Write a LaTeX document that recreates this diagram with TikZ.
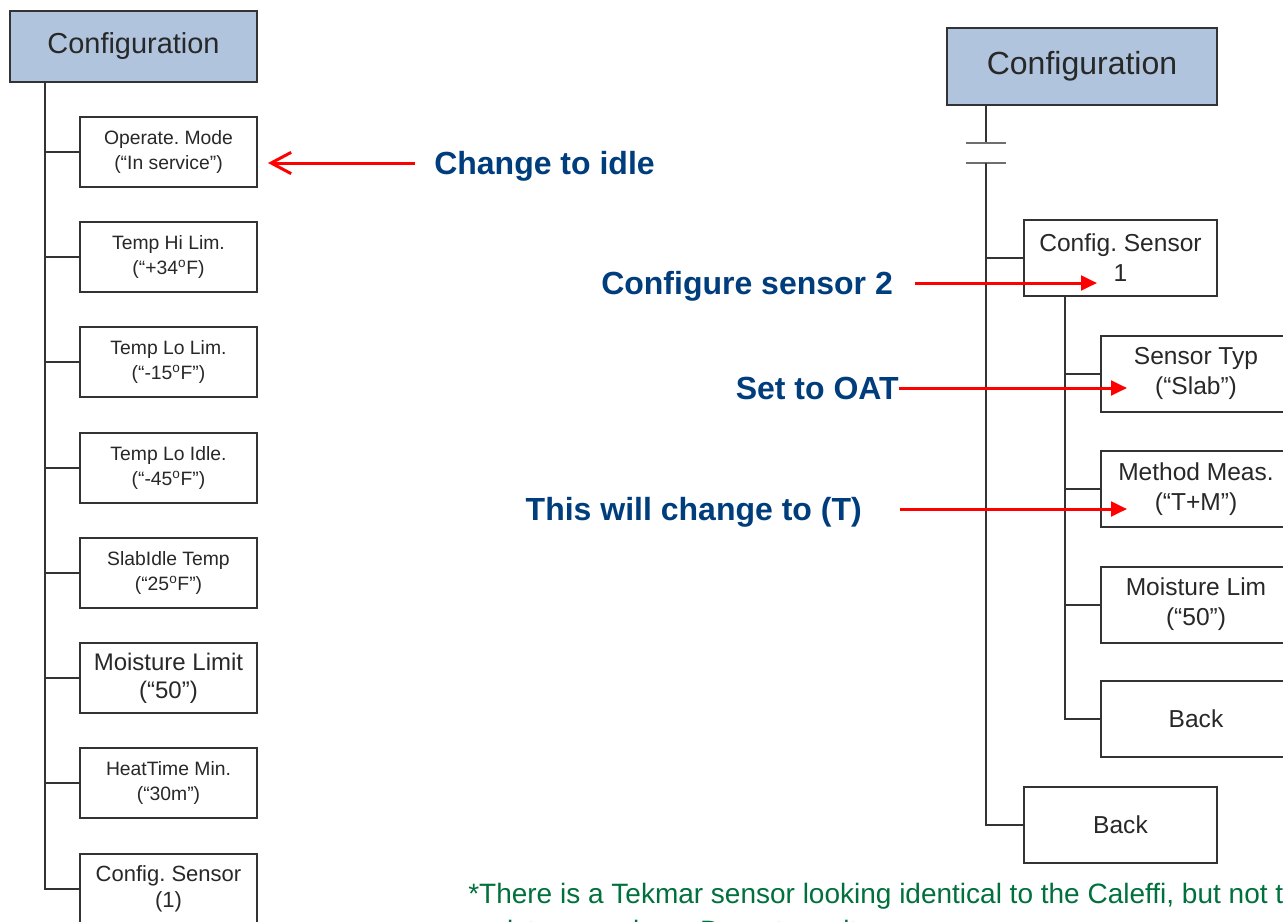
\documentclass[tikz,border=0pt]{standalone}
\usepackage{fontspec}
\setmainfont{Liberation Sans}
\usetikzlibrary{arrows.meta}
\definecolor{hdrfill}{RGB}{176,196,222}
\definecolor{boxline}{RGB}{51,51,51}
\definecolor{txtgray}{RGB}{40,40,40}
\definecolor{brkgray}{RGB}{110,110,110}
\definecolor{annblue}{RGB}{0,61,124}
\definecolor{notegreen}{RGB}{0,112,60}
\definecolor{arrred}{RGB}{255,0,0}
\frenchspacing
\begin{document}
\begin{tikzpicture}[x=0.75pt,y=-0.75pt,
  hdr/.style={draw=boxline,fill=hdrfill,line width=1.5pt,inner sep=0pt,text=txtgray},
  lbox/.style={draw=boxline,line width=1.5pt,fill=white,minimum width=132.75pt,minimum height=52.5pt,inner sep=0pt,align=center,text=txtgray,font=\fontsize{14.5}{18.75}\selectfont},
  rbox/.style={draw=boxline,line width=1.5pt,fill=white,minimum width=142.5pt,minimum height=57pt,inner sep=0pt,align=center,text=txtgray,font=\fontsize{18.4}{22.5}\selectfont},
  wire/.style={draw=boxline,line width=1.5pt},
  brkline/.style={draw=brkgray,line width=1.8pt},
  ann/.style={text=annblue,font=\bfseries\fontsize{24}{28}\selectfont,inner sep=0pt},
  redarr/.style={draw=arrred,line width=2.25pt},
  note/.style={text=notegreen,font=\fontsize{21}{24}\selectfont,inner sep=0pt}
]
\useasboundingbox (0,0) rectangle (1283,922);

% ---------------- left tree ----------------
\node[hdr,minimum width=185.25pt,minimum height=53.25pt,font=\fontsize{21.7}{26}\selectfont] (lcfg) at (133.5,46.5) {Configuration};
\node[lbox] (l1) at (168.5,152) {Operate. Mode\\(“In service”)};
\node[lbox] (l2) at (168.5,257) {Temp Hi Lim.\\(“+34\textsuperscript{o}F)};
\node[lbox] (l3) at (168.5,362) {Temp Lo Lim.\\(“-15\textsuperscript{o}F”)};
\node[lbox] (l4) at (168.5,468) {Temp Lo Idle.\\(“-45\textsuperscript{o}F”)};
\node[lbox] (l5) at (168.5,573) {SlabIdle Temp\\(“25\textsuperscript{o}F”)};
\node[lbox,font=\fontsize{18}{21}\selectfont] (l6) at (168.5,678) {Moisture Limit\\(“50”)};
\node[lbox] (l7) at (168.5,783) {HeatTime Min.\\(“30m”)};
\node[lbox,font=\fontsize{16.5}{19.5}\selectfont] (l8) at (168.5,889) {Config. Sensor\\(1)};

\coordinate (ltr) at (45,82);
\draw[wire] (ltr |- lcfg.south) |- (l8.west);
\foreach \n in {l1,l2,l3,l4,l5,l6,l7}{
  \draw[wire] (\n.west) -- (\n.west -| ltr);
}

% ---------------- right tree ----------------
\node[hdr,minimum width=202.5pt,minimum height=57.75pt,font=\fontsize{24}{28}\selectfont] (rcfg) at (1082,66.5) {Configuration};
\coordinate (brk1) at (986,143);
\coordinate (brk2) at (986,163);
\draw[wire] (brk1 |- rcfg.south) -- (brk1);
\draw[brkline] (966,143) -- (1006,143);
\draw[brkline] (966,163) -- (1006,163);

\node[rbox,minimum width=144.75pt] (rcs) at (1120.5,258) {Config. Sensor\\1};
\node[rbox] (r1) at (1196,373.5) {Sensor Typ\\(“Slab”)};
\node[rbox] (r2) at (1196,489) {Method Meas.\\(“T+M”)};
\node[rbox] (r3) at (1196,604.5) {Moisture Lim\\(“50”)};
\node[rbox] (rb2) at (1196,719) {Back};
\node[rbox,minimum width=144.75pt] (rback) at (1120.5,824.5) {Back};

\coordinate (rtr) at (1065,296);
\draw[wire] (brk2) |- (rback.west);
\draw[wire] (rcs.west) -- (rcs.west -| brk2);
\draw[wire] (rtr |- rcs.south) |- (rb2.west);
\foreach \n in {r1,r2,r3}{
  \draw[wire] (\n.west) -- (\n.west -| rtr);
}

% ---------------- annotations ----------------
\node[ann,anchor=base west] (a1) at (434,174.5) {Change to idle};
\coordinate (a1s) at (415,163);
\coordinate (a1e) at (268,163);
\draw[redarr,-{Straight Barb[length=15pt,width=16pt,line width=2.25pt]}] (a1s) -- (a1e);

\node[ann,anchor=base west] (a2) at (601,294.5) {Configure sensor 2};
\coordinate (a2s) at (915,283);
\coordinate (a2e) at (1097,283);
\draw[redarr,-{Triangle[length=12pt,width=11pt]}] (a2s) -- (a2e);

\node[ann,anchor=base east] (a3) at (899,399.5) {Set to OAT};
\coordinate (a3s) at (899,388);
\coordinate (a3e) at (1127,388);
\draw[redarr,-{Triangle[length=12pt,width=11pt]}] (a3s) -- (a3e);

\node[ann,anchor=base east] (a4) at (862,520.5) {This will change to (T)};
\coordinate (a4s) at (900,509);
\coordinate (a4e) at (1127,509);
\draw[redarr,-{Triangle[length=12pt,width=11pt]}] (a4s) -- (a4e);

\node[note,anchor=base west] (n1) at (468,903) {*There is a Tekmar sensor looking identical to the Caleffi, but not the same};
\node[note,anchor=base west] (n2) at (468,940) {resistance values. Do not use it.};
\end{tikzpicture}
\end{document}
